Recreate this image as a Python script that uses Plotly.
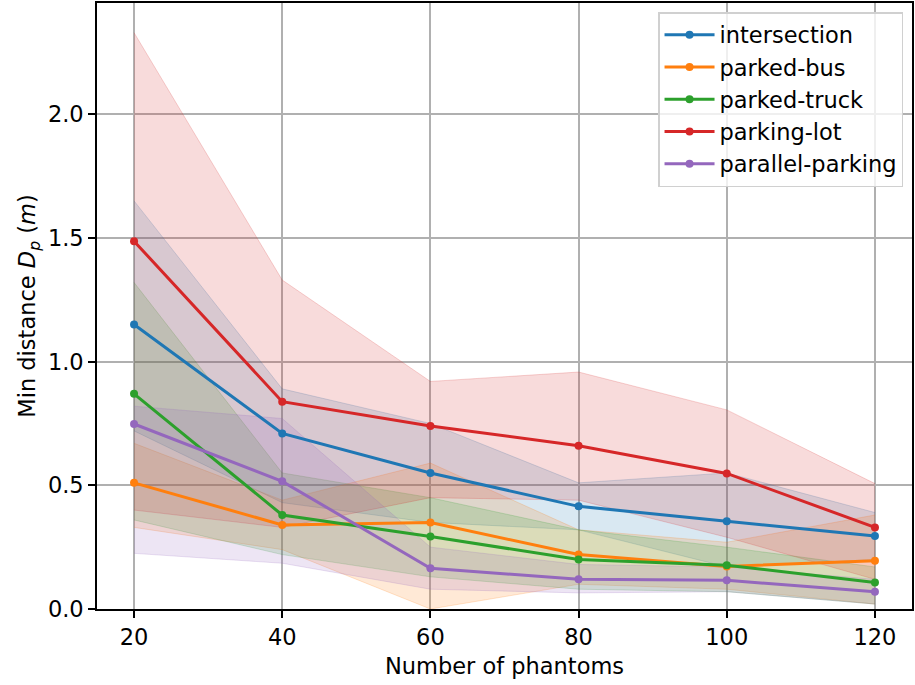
import plotly.graph_objects as go

# Number of phantoms on the x axis
phantoms = [20, 40, 60, 80, 100, 120]

scenarios = ["intersection", "parked-bus", "parked-truck", "parking-lot", "parallel-parking"]
colors = ["#1f77b4", "#ff7f0e", "#2ca02c", "#d62728", "#9467bd"]

# Mean minimum distance per scenario
intersection_mean = [1.15, 0.71, 0.55, 0.415, 0.355, 0.295]
parked_bus_mean = [0.51, 0.34, 0.35, 0.22, 0.172, 0.195]
parked_truck_mean = [0.87, 0.38, 0.293, 0.20, 0.177, 0.107]
parking_lot_mean = [1.487, 0.838, 0.74, 0.66, 0.548, 0.33]
parallel_parking_mean = [0.748, 0.516, 0.165, 0.12, 0.116, 0.07]

# Upper / lower spread per scenario
intersection_hi = [1.65, 0.89, 0.75, 0.51, 0.55, 0.39]
intersection_lo = [0.72, 0.43, 0.35, 0.32, 0.17, 0.20]
parked_bus_hi = [0.67, 0.44, 0.59, 0.32, 0.27, 0.38]
parked_bus_lo = [0.33, 0.24, 0.0, 0.10, 0.08, 0.02]
parked_truck_hi = [1.32, 0.55, 0.45, 0.32, 0.25, 0.17]
parked_truck_lo = [0.36, 0.22, 0.13, 0.08, 0.07, 0.02]
parking_lot_hi = [2.33, 1.33, 0.92, 0.958, 0.805, 0.507]
parking_lot_lo = [0.40, 0.33, 0.45, 0.44, 0.29, 0.12]
parallel_parking_hi = [0.82, 0.77, 0.25, 0.18, 0.17, 0.12]
parallel_parking_lo = [0.225, 0.185, 0.08, 0.065, 0.07, 0.02]

means = [intersection_mean, parked_bus_mean, parked_truck_mean, parking_lot_mean, parallel_parking_mean]
highs = [intersection_hi, parked_bus_hi, parked_truck_hi, parking_lot_hi, parallel_parking_hi]
lows = [intersection_lo, parked_bus_lo, parked_truck_lo, parking_lot_lo, parallel_parking_lo]


def rgba(hex_color, a):
    h = hex_color.lstrip("#")
    r, g, b = int(h[0:2], 16), int(h[2:4], 16), int(h[4:6], 16)
    return f"rgba({r},{g},{b},{a})"


fig = go.Figure()

# Shaded spread bands
for name, c, hi, lo in zip(scenarios, colors, highs, lows):
    fig.add_trace(go.Scatter(x=phantoms, y=hi, mode="lines",
                             line=dict(color=rgba(c, 0.2), width=1),
                             showlegend=False, hoverinfo="skip"))
    fig.add_trace(go.Scatter(x=phantoms, y=lo, mode="lines",
                             line=dict(color=rgba(c, 0.2), width=1),
                             fill="tonexty", fillcolor=rgba(c, 0.17),
                             showlegend=False, hoverinfo="skip"))

# Mean lines with markers
for name, c, m in zip(scenarios, colors, means):
    fig.add_trace(go.Scatter(x=phantoms, y=m, mode="lines+markers", name=name,
                             line=dict(color=c, width=3),
                             marker=dict(color=c, size=8)))

FS = 22.5

axis_common = dict(
    showline=True, linecolor="black", linewidth=1.6, mirror=True,
    showgrid=True, gridcolor="#b0b0b0", gridwidth=1.6,
    ticks="outside", ticklen=7, tickwidth=1.6, tickcolor="black",
    tickfont=dict(size=FS, color="black"), zeroline=False,
)

fig.update_layout(
    width=915, height=685,
    margin=dict(l=97, r=2, t=1, b=76),
    paper_bgcolor="white", plot_bgcolor="white",
    font=dict(family="DejaVu Sans", color="black"),
    legend=dict(
        x=0.989, y=0.985, xanchor="right", yanchor="top",
        traceorder="normal",
        bgcolor="rgba(255,255,255,0.8)", bordercolor="#d0d0d0", borderwidth=1.5,
        font=dict(size=FS, color="black"), tracegroupgap=0, itemwidth=50,
    ),
    xaxis=dict(range=[15, 125], tickvals=phantoms,
               title=dict(text="Number of phantoms", font=dict(size=FS), standoff=9),
               **axis_common),
    yaxis=dict(range=[0, 2.45], tickvals=[0, 0.5, 1.0, 1.5, 2.0], tickformat=".1f",
               title=dict(text="Min distance <i>D<sub>p</sub></i> (<i>m</i>)",
                          font=dict(size=FS), standoff=6),
               **axis_common),
)

fig.write_html("out.html")
